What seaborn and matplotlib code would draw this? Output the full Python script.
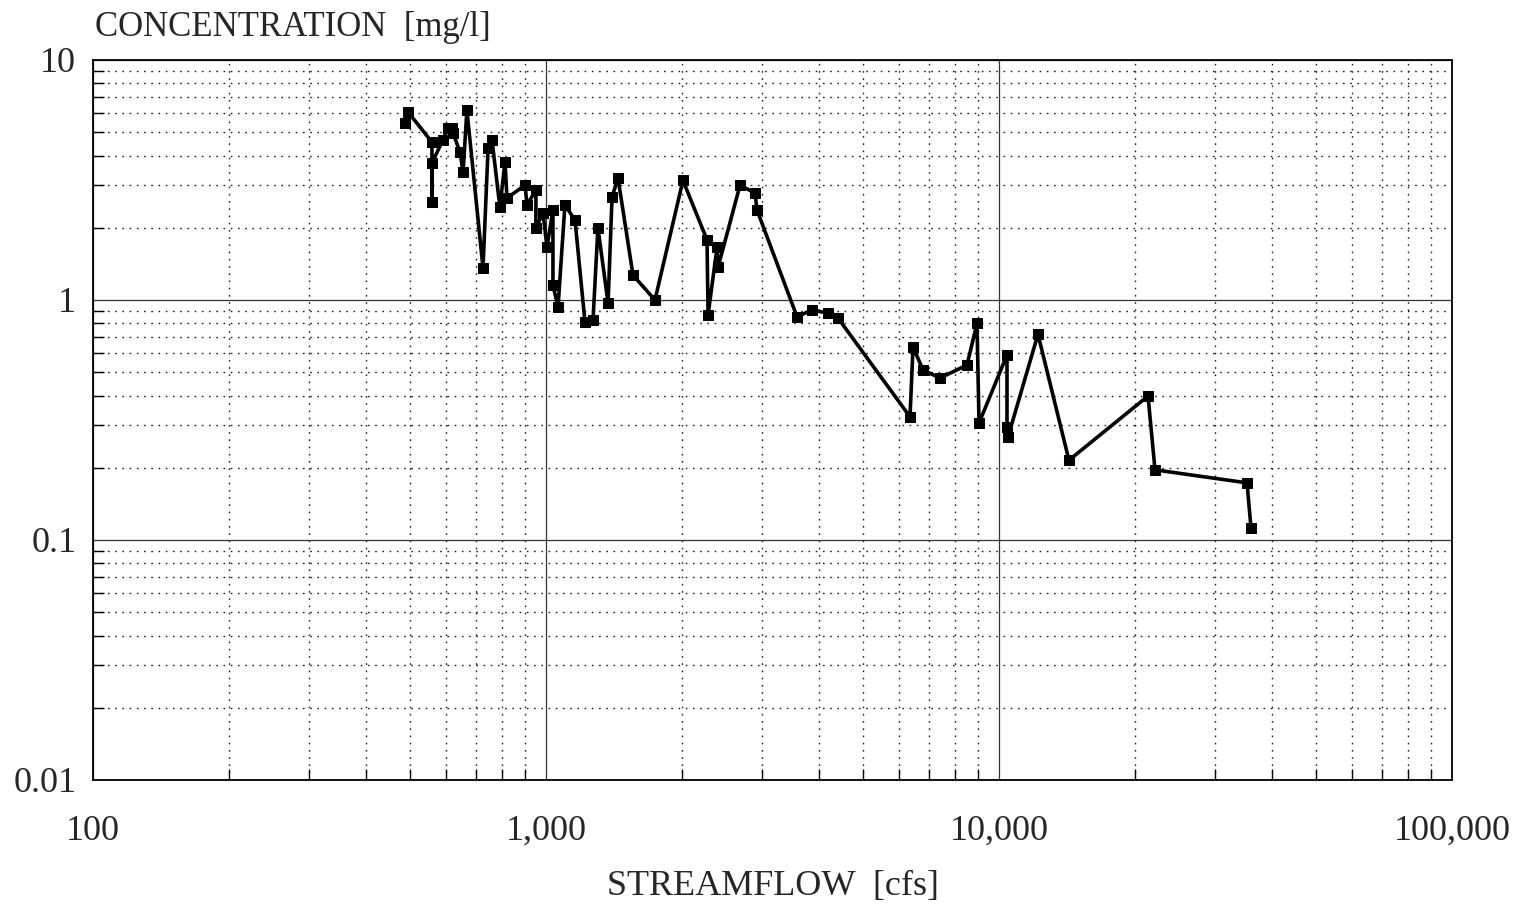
import numpy as np
import pandas as pd
import matplotlib
matplotlib.use("Agg")
import matplotlib.pyplot as plt
import matplotlib.ticker as mticker
import seaborn as sns

# Streamflow (cfs) and measured concentration (mg/l), in sampling order along the curve
streamflow = [488, 496, 560, 560, 560, 592, 608, 620, 623, 646, 656, 669, 726, 745,
              760, 791, 812, 820, 899, 908, 950, 950, 985, 1005, 1036, 1036, 1063,
              1101, 1159, 1219, 1270, 1302, 1371, 1399, 1442, 1556, 1740, 2006, 2267,
              2279, 2386, 2398, 2681, 2893, 2923, 3583, 3866, 4195, 4413, 6361, 6460,
              6796, 7410, 8500, 8942, 9034, 10415, 10415, 10470, 12190, 14270, 21330,
              22100, 35280, 36000]
concentration = [5.46, 6.07, 4.55, 2.56, 3.72, 4.64, 5.21, 5.21, 4.97, 4.14, 3.41, 6.18,
                 1.36, 4.30, 4.64, 2.44, 3.76, 2.66, 3.01, 2.49, 2.87, 2.0, 2.3, 1.66,
                 2.37, 1.15, 0.935, 2.49, 2.15, 0.81, 0.825, 2.0, 0.97, 2.69, 3.22, 1.27,
                 1.0, 3.15, 1.78, 0.866, 1.66, 1.37, 3.01, 2.79, 2.37, 0.85, 0.91, 0.88,
                 0.84, 0.326, 0.637, 0.511, 0.473, 0.536, 0.80, 0.307, 0.59, 0.296, 0.269,
                 0.72, 0.215, 0.398, 0.196, 0.173, 0.112]

x_ticks = [100, 1000, 10000, 100000]
x_tick_labels = ["100", "1,000", "10,000", "100,000"]
y_ticks = [0.01, 0.1, 1, 10]
y_tick_labels = ["0.01", "0.1", "1", "10"]

df = pd.DataFrame({"flow": streamflow, "conc": concentration})

sns.set_style("white")
plt.rcParams["font.family"] = ["Liberation Serif", "DejaVu Serif"]

fig = plt.figure(figsize=(15.24, 9.10), dpi=100)
ax = fig.add_axes([93 / 1524, 1 - 780 / 910, (1452 - 93) / 1524, (780 - 60) / 910])

sns.lineplot(data=df, x="flow", y="conc", sort=False, ax=ax, color="black",
             linewidth=2.6, marker="s", markersize=6.5, markeredgecolor="black",
             markerfacecolor="black", estimator=None)

ax.set_xscale("log")
ax.set_yscale("log")
ax.set_xlim(100, 100000)
ax.set_ylim(0.01, 10)

ax.xaxis.set_major_locator(mticker.FixedLocator(x_ticks))
ax.yaxis.set_major_locator(mticker.FixedLocator(y_ticks))
ax.xaxis.set_minor_locator(mticker.LogLocator(base=10, subs=np.arange(2, 10)))
ax.yaxis.set_minor_locator(mticker.LogLocator(base=10, subs=np.arange(2, 10)))
ax.xaxis.set_minor_formatter(mticker.NullFormatter())
ax.yaxis.set_minor_formatter(mticker.NullFormatter())
ax.set_xticklabels(x_tick_labels)
ax.set_yticklabels(y_tick_labels)

ax.grid(True, which="major", color="#333333", linewidth=0.9, linestyle="-")
ax.grid(True, which="minor", color="#222222", linewidth=1.0, linestyle=(0, (1.2, 4)))
ax.set_axisbelow(True)

ax.tick_params(which="major", length=0, labelsize=26)
ax.tick_params(axis="y", which="major", pad=12)
ax.tick_params(axis="x", which="major", pad=25)
ax.tick_params(which="minor", direction="in", length=8, width=1.0, color="black",
               bottom=True, left=True, top=False, right=False)

for s in ax.spines.values():
    s.set_color("black")
    s.set_linewidth(1.3)

ax.set_xlabel("STREAMFLOW  [cfs]", fontsize=26, labelpad=16)
ax.set_ylabel("")
fig.text(95 / 1524, 1 - 27 / 910, "CONCENTRATION  [mg/l]", fontsize=25,
         ha="left", va="center")

fig.savefig("out.png", dpi=100)
